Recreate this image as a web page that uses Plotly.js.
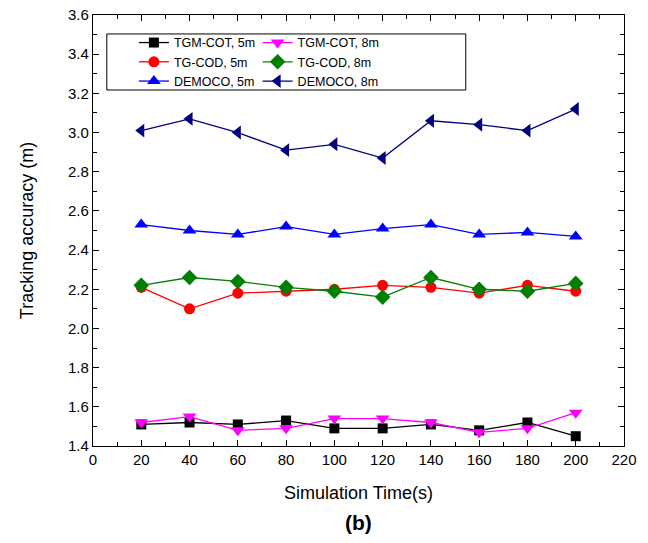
<!DOCTYPE html>
<html><head><meta charset="utf-8">
<script src="https://cdn.plot.ly/plotly-3.0.1.min.js"></script>
<style>html,body{margin:0;padding:0;background:#fff}#chart{width:648px;height:543px}</style>
</head><body><div id="chart"></div>
<script>
const times = [20, 40, 60, 80, 100, 120, 140, 160, 180, 200];
const tgmcot5 = [1.51, 1.52, 1.51, 1.53, 1.49, 1.49, 1.51, 1.48, 1.52, 1.45];
const tgmcot8 = [1.52, 1.55, 1.48, 1.49, 1.54, 1.54, 1.52, 1.47, 1.49, 1.57];
const tgcod5 = [2.21, 2.10, 2.18, 2.19, 2.20, 2.22, 2.21, 2.18, 2.22, 2.19];
const tgcod8 = [2.22, 2.26, 2.24, 2.21, 2.19, 2.16, 2.26, 2.20, 2.19, 2.23];
const democo5 = [2.53, 2.50, 2.48, 2.52, 2.48, 2.51, 2.53, 2.48, 2.49, 2.47];
const democo8 = [3.01, 3.07, 3.00, 2.91, 2.94, 2.87, 3.06, 3.04, 3.01, 3.12];
const names = ['TGM-COT, 5m', 'TGM-COT, 8m', 'TG-COD, 5m', 'TG-COD, 8m', 'DEMOCO, 5m', 'DEMOCO, 8m'];

function tr(y, name, color, symbol, size, leg) {
  return {x: times, y: y, name: name, type: 'scatter', mode: 'lines+markers', legend: leg,
    line: {color: color, width: 1.3}, marker: {color: color, symbol: symbol, size: size}};
}
const data = [
  tr(tgmcot5, names[0], '#000000', 'square', 10, 'legend'),
  tr(tgmcot8, names[1], '#ff00ff', 'triangle-down', 12, 'legend2'),
  tr(tgcod5, names[2], '#ff0000', 'circle', 11, 'legend'),
  tr(tgcod8, names[3], '#008000', 'diamond', 12, 'legend2'),
  tr(democo5, names[4], '#0000ff', 'triangle-up', 12, 'legend'),
  tr(democo8, names[5], '#000080', 'triangle-left', 12, 'legend2')
];
const font = 'Liberation Sans, Arial, sans-serif';
const axisCommon = {showgrid: false, zeroline: false, showline: true, linecolor: '#000', linewidth: 1.2,
  mirror: 'ticks', ticks: 'inside', ticklen: 6, tickwidth: 1.2, tickcolor: '#000',
  tickfont: {family: font, size: 15, color: '#000'}};
const legCommon = {orientation: 'v', yanchor: 'top', xanchor: 'left', y: 0.97, borderwidth: 0,
  bgcolor: 'rgba(255,255,255,0)', font: {family: font, size: 12.5}, tracegroupgap: 0};
const layout = {
  width: 648, height: 543,
  margin: {l: 93, r: 24, t: 15, b: 97},
  paper_bgcolor: '#fff', plot_bgcolor: '#fff',
  font: {family: font, color: '#000'},
  xaxis: Object.assign({}, axisCommon, {range: [0, 220], dtick: 20, tick0: 0,
    minor: {dtick: 10, ticks: 'inside', ticklen: 4, tickwidth: 1.2, tickcolor: '#000'},
    title: {text: 'Simulation Time(s)', font: {family: font, size: 18}, standoff: 19}}),
  yaxis: Object.assign({}, axisCommon, {range: [1.4, 3.6], dtick: 0.2, tick0: 1.4, tickformat: '.1f',
    minor: {dtick: 0.1, ticks: 'inside', ticklen: 4, tickwidth: 1.2, tickcolor: '#000'},
    title: {text: 'Tracking accuracy (m)', font: {family: font, size: 18}, standoff: 29}}),
  legend: Object.assign({}, legCommon, {x: 0.077}),
  legend2: Object.assign({}, legCommon, {x: 0.31}),
  showlegend: true,
  shapes: [{type: 'rect', xref: 'paper', yref: 'paper', x0: 0.026, x1: 0.702, y0: 0.826, y1: 0.956,
    line: {color: '#000', width: 1}, fillcolor: 'rgba(0,0,0,0)'}],
  annotations: [{text: '<b>(b)</b>', xref: 'paper', yref: 'paper', x: 0.5, y: -0.178,
    xanchor: 'center', yanchor: 'middle', showarrow: false, font: {family: font, size: 21}}]
};
Plotly.newPlot('chart', data, layout, {displayModeBar: false});
</script></body></html>
